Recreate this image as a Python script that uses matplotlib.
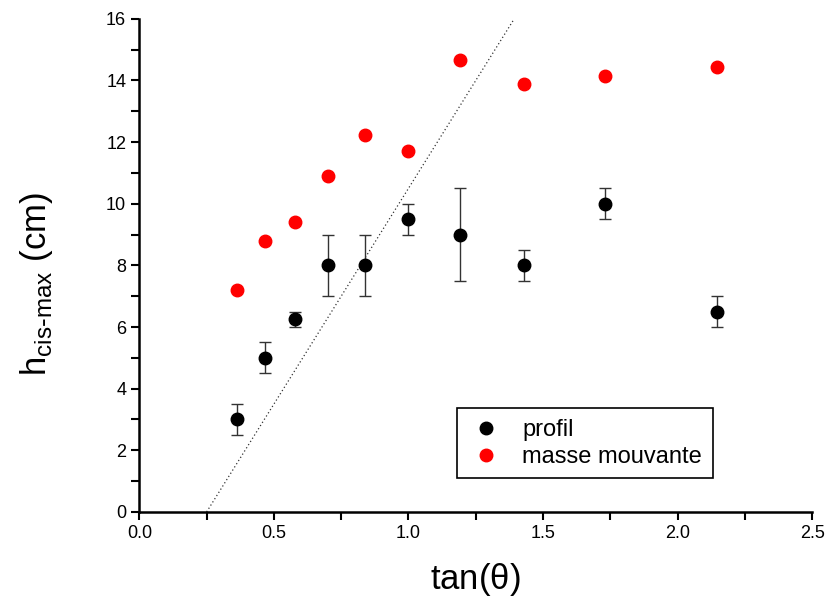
import numpy as np
import matplotlib.pyplot as plt
from matplotlib.lines import Line2D

# angles 20..65 deg -> tan
tan_theta = [0.364, 0.466, 0.577, 0.700, 0.839, 1.000, 1.192, 1.428, 1.732, 2.145]
h_profil = [3.0, 5.0, 6.25, 8.0, 8.0, 9.5, 9.0, 8.0, 10.0, 6.5]
err_profil = [0.5, 0.5, 0.25, 1.0, 1.0, 0.5, 1.5, 0.5, 0.5, 0.5]
h_masse = [7.2, 8.8, 9.4, 10.9, 12.24, 11.72, 14.65, 13.87, 14.13, 14.45]

# dotted reference line
line_x = [0.25, 1.393]
line_y = [0.0, 16.0]

plt.rcParams['font.family'] = ['Liberation Sans', 'DejaVu Sans']

fig = plt.figure(figsize=(8.27, 6.08), dpi=100)
ax = fig.add_axes([0.1685, 0.158, 0.8135, 0.811])

ax.plot(line_x, line_y, color='#333333', linestyle=(0, (1, 2)), linewidth=0.9)
ax.errorbar(tan_theta, h_profil, yerr=err_profil, fmt='o', color='black',
            ecolor='#333333', elinewidth=1, capsize=4, capthick=1,
            markersize=9)
ax.plot(tan_theta, h_masse, 'o', color='#ff0000', markersize=9)

ax.set_xlim(0, 2.5)
ax.set_ylim(0, 16)
ax.set_xticks(np.arange(0, 2.51, 0.5))
ax.set_xticks(np.arange(0.25, 2.5, 0.5), minor=True)
ax.set_yticks(np.arange(0, 16.1, 2))
ax.set_yticks(np.arange(1, 16, 2), minor=True)
ax.set_xticklabels(['0.0', '0.5', '1.0', '1.5', '2.0', '2.5'])
ax.tick_params(which='both', direction='out', length=6, width=1.5, labelsize=13)
ax.spines['top'].set_visible(False)
ax.spines['right'].set_visible(False)
ax.spines['left'].set_linewidth(1.8)
ax.spines['bottom'].set_linewidth(1.8)

ax.set_xlabel(r'tan($\mathregular{\theta}$)', fontsize=25)
ax.xaxis.set_label_coords(0.5, -0.1)
ax.set_ylabel(r'h$_{\mathregular{cis\text{-}max}}$ (cm)', fontsize=25)
ax.yaxis.set_label_coords(-0.125, 0.462)

handles = [Line2D([], [], marker='o', color='black', linestyle='none', markersize=9),
           Line2D([], [], marker='o', color='#ff0000', linestyle='none', markersize=9)]
leg = ax.legend(handles, ['profil', 'masse mouvante'], loc='lower left',
                bbox_to_anchor=(0.455, 0.044), fontsize=17,
                frameon=True, fancybox=False, edgecolor='black', framealpha=1,
                handletextpad=0.8, handlelength=1.5, borderpad=0.45, labelspacing=0.2)
leg.get_frame().set_linewidth(1.2)

fig.savefig('out.png', dpi=100)
